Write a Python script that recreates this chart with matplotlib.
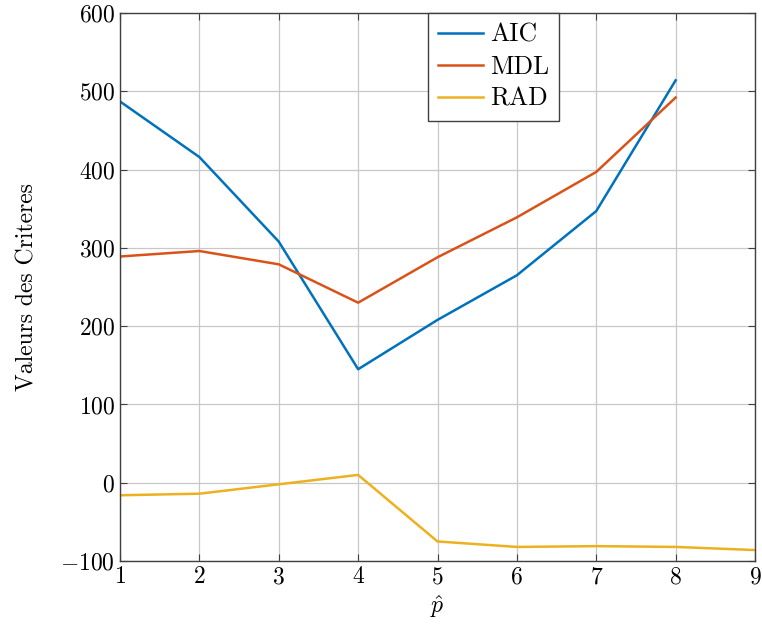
import numpy as np
import matplotlib
matplotlib.use('Agg')
import matplotlib.pyplot as plt

plt.rcParams['font.family'] = 'serif'
plt.rcParams['font.serif'] = ['cmr10', 'DejaVu Serif']
plt.rcParams['mathtext.fontset'] = 'cm'
plt.rcParams['axes.formatter.use_mathtext'] = True

p_aic = [1, 2, 3, 4, 5, 6, 7, 8]
aic = [487, 416, 308, 145, 208, 265, 347, 514]
p_mdl = [1, 2, 3, 4, 5, 6, 7, 8]
mdl = [289, 296, 279, 230, 288, 339, 397, 492]
p_rad = [1, 2, 3, 4, 5, 6, 7, 8, 9]
rad = [-16, -14, -2, 10, -75, -82, -81, -82, -86]

fig = plt.figure(figsize=(7.62, 6.35), dpi=100)
ax = fig.add_axes([0.1575, 0.1165, 0.8333, 0.863])

ax.plot(p_aic, aic, color='#0072BD', lw=1.8, label='AIC')
ax.plot(p_mdl, mdl, color='#D95319', lw=1.8, label='MDL')
ax.plot(p_rad, rad, color='#EDB120', lw=1.8, label='RAD')

ax.set_xlim(1, 9)
ax.set_ylim(-100, 600)
ax.set_xticks(range(1, 10))
ax.set_yticks(range(-100, 601, 100))
ax.grid(True, color='#c8c8c8', lw=0.9)
ax.tick_params(direction='in', top=True, right=True, labelsize=17, length=5, color='#404040')
for s in ax.spines.values():
    s.set_color('#404040')
    s.set_linewidth(1.0)

ax.set_xlabel(r'$\hat{p}$', fontsize=17)
ax.set_ylabel('Valeurs des Criteres', fontsize=17, labelpad=16)

leg = ax.legend(loc='upper left', bbox_to_anchor=(0.485, 1.0), fontsize=18.5,
                fancybox=False, framealpha=1, edgecolor='#404040',
                handlelength=1.75, handletextpad=0.3, borderpad=0.38,
                labelspacing=0.33, borderaxespad=0)
leg.get_frame().set_linewidth(1.0)

fig.savefig('out.png', dpi=100)
